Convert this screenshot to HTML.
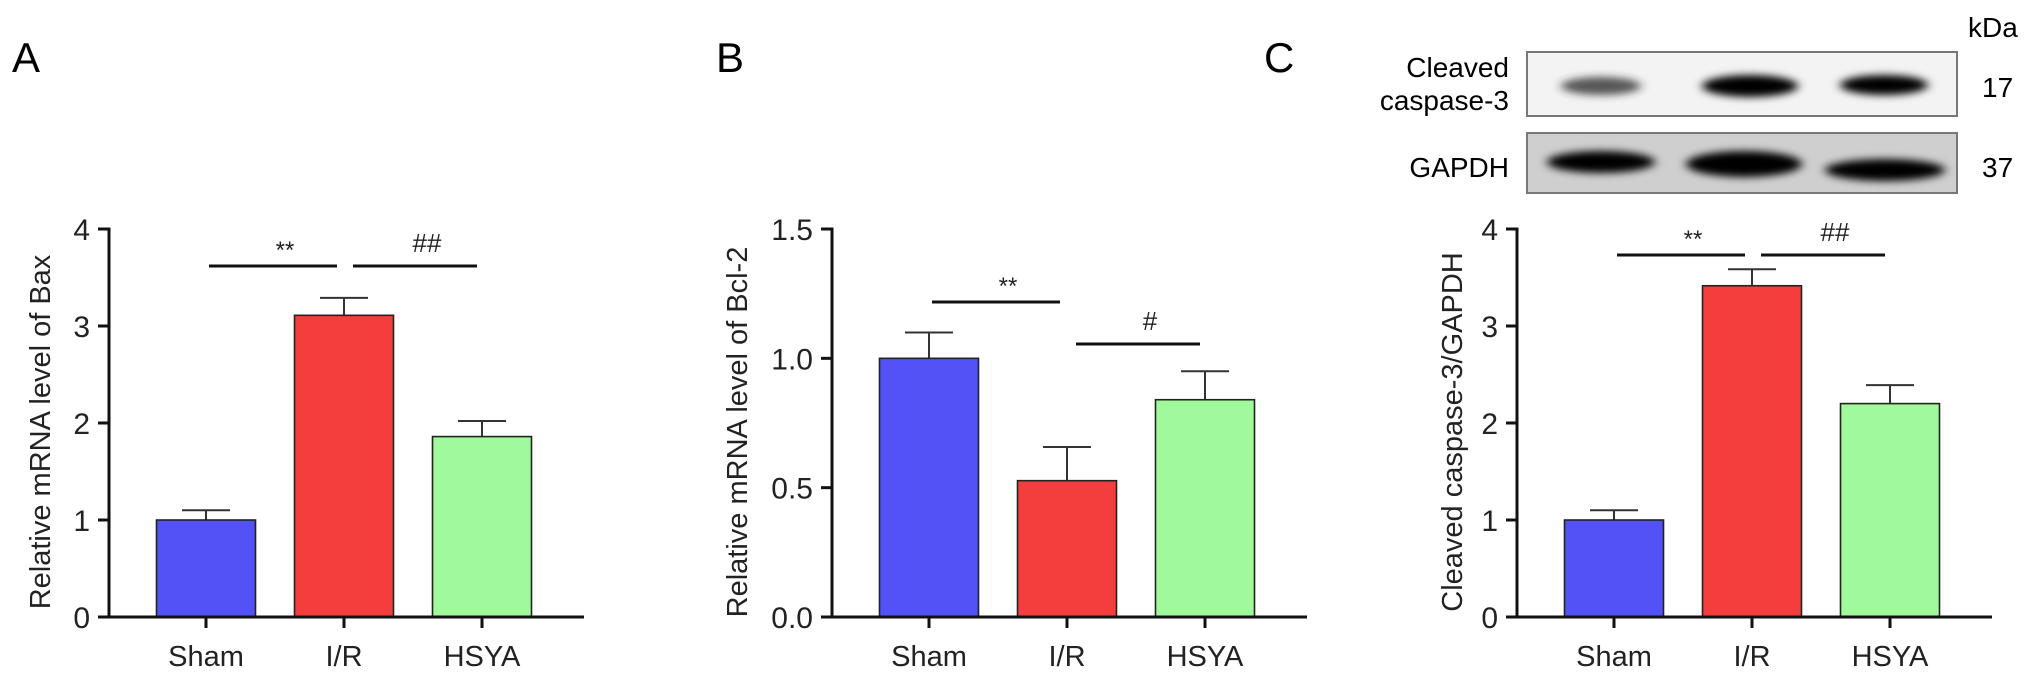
<!DOCTYPE html>
<html><head><meta charset="utf-8"><style>
html,body{margin:0;padding:0;background:#fff;}
svg{display:block;font-family:"Liberation Sans",Arial,sans-serif;}
</style></head><body>
<svg id="fig" width="2032" height="679" viewBox="0 0 2032 679" xmlns="http://www.w3.org/2000/svg">
<defs>
<filter id="blur4" x="-20%" y="-100%" width="140%" height="300%"><feGaussianBlur stdDeviation="5 4"/></filter>
</defs>
<text x="12" y="72" font-size="42">A</text>
<text x="716" y="72" font-size="42">B</text>
<text x="1264" y="72" font-size="42">C</text>

<g>
<text x="1968" y="37" font-size="28">kDa</text>
<rect x="1527" y="52" width="430" height="64" fill="#f3f3f3" stroke="#777" stroke-width="2"/>
<ellipse cx="1601" cy="86" rx="40" ry="9" fill="#222" opacity="0.75" filter="url(#blur4)"/>
<ellipse cx="1750" cy="86" rx="48" ry="11" fill="#000" filter="url(#blur4)"/>
<ellipse cx="1884" cy="85" rx="44" ry="10" fill="#000" filter="url(#blur4)"/>
<rect x="1527" y="133" width="430" height="60" fill="#cfcfcf" stroke="#777" stroke-width="2"/>
<ellipse cx="1601" cy="162" rx="54" ry="11" fill="#000" filter="url(#blur4)"/>
<ellipse cx="1744" cy="164" rx="58" ry="13" fill="#000" filter="url(#blur4)"/>
<ellipse cx="1885" cy="170" rx="60" ry="11" fill="#000" filter="url(#blur4)"/>
<text x="1509" y="77" font-size="28" text-anchor="end">Cleaved</text>
<text x="1509" y="110" font-size="28" text-anchor="end">caspase-3</text>
<text x="1509" y="177" font-size="28" text-anchor="end">GAPDH</text>
<text x="1982" y="97" font-size="28">17</text>
<text x="1982" y="177" font-size="28">37</text>
</g>
<g id="charts"></g>
</svg>
<script>
const categories = ["Sham", "I/R", "HSYA"];
const colors = ["#5252f6", "#f43e3e", "#a0f99a"];
const baxValues = [1.0, 3.11, 1.86];
const baxErrors = [0.10, 0.18, 0.16];
const baxTicks = ["0", "1", "2", "3", "4"];
const bcl2Values = [1.0, 0.527, 0.84];
const bcl2Errors = [0.10, 0.13, 0.11];
const bcl2Ticks = ["0.0", "0.5", "1.0", "1.5"];
const caspValues = [1.0, 3.415, 2.20];
const caspErrors = [0.10, 0.17, 0.19];
const caspTicks = ["0", "1", "2", "3", "4"];
const baxSig = [{from: 0, to: 1, label: "**"}, {from: 1, to: 2, label: "##"}];
const bcl2Sig = [{from: 0, to: 1, label: "**"}, {from: 1, to: 2, label: "#"}];
const caspSig = [{from: 0, to: 1, label: "**"}, {from: 1, to: 2, label: "##"}];

const NS = "http://www.w3.org/2000/svg";
const root = document.getElementById("charts");
function mk(tag, attrs, parent) {
  const e = document.createElementNS(NS, tag);
  for (const k in attrs) e.setAttribute(k, attrs[k]);
  parent.appendChild(e);
  return e;
}

function drawChart(cfg) {
  const g = mk("g", {}, root);
  
  
  const y0 = 617, yTop = 229;
  const ymax = cfg.ymax;
  const y = v => y0 - (v / ymax) * (y0 - yTop);
  const step = 138, bw = 99;
  const xc = i => cfg.ax + 97 + i * step;
  cfg.values.forEach((v, i) => {
    const cx = xc(i);
    const er = y(v + cfg.errors[i]);
    const el = mk("line", {x1: cx, x2: cx, y1: y(v), y2: er, stroke: "#333", "stroke-width": 2}, g);
    
    
    const cap = mk("line", {x1: cx - 24, x2: cx + 24, y1: er, y2: er, stroke: "#333", "stroke-width": 2}, g);
    
    
    const r = mk("rect", {x: cx - bw / 2, y: y(v), width: bw, height: y0 - y(v), fill: colors[i], stroke: "#222", "stroke-width": 1.6}, g);
    
    
    const t = mk("line", {x1: cx, x2: cx, y1: y0, y2: y0 + 11, stroke: "#111", "stroke-width": 3}, g);
    
    
    const lb = mk("text", {x: cx, y: y0 + 49, "font-size": 29, "text-anchor": "middle", fill: "#222"}, g);
    lb.textContent = categories[i];
    
    
  });
  const ya = mk("line", {x1: cfg.ax, x2: cfg.ax, y1: yTop - 1.5, y2: y0 + 1.5, stroke: "#111", "stroke-width": 3}, g);
  
  
  const xa = mk("line", {x1: cfg.ax - 11, x2: cfg.ax + 475, y1: y0, y2: y0, stroke: "#111", "stroke-width": 3}, g);
  
  
  cfg.ticks.forEach((lab, i) => {
    const v = i * ymax / (cfg.ticks.length - 1);
    const tk = mk("line", {x1: cfg.ax - 11, x2: cfg.ax, y1: y(v), y2: y(v), stroke: "#111", "stroke-width": 3}, g);
    
    
    const tl = mk("text", {x: cfg.ax - 19, y: y(v) + 11, "font-size": 30, "text-anchor": "end", fill: "#222"}, g);
    tl.textContent = lab;
    
    
  });
  const tt = mk("text", {x: 0, y: 0, "font-size": 29, "text-anchor": "middle", fill: "#222", transform: "translate(" + cfg.titleX + ",432) rotate(-90)"}, g);
  tt.textContent = cfg.title;
  
  
  cfg.sig.forEach((s, i) => {
    const ly = cfg.sigY[i];
    const x1 = xc(s.from) + 3 + (i ? 6 : 0), x2 = xc(s.to) - 5 + (i ? 0 : -2);
    const ln = mk("line", {x1: x1, x2: x2, y1: ly, y2: ly, stroke: "#111", "stroke-width": 3}, g);
    
    
    const st = mk("text", {x: (x1 + x2) / 2 + 12, y: ly - 14 + (s.label[0] === "*" ? 6 : 0), "font-size": s.label[0] === "*" ? 24 : 26, "text-anchor": "middle", fill: "#222"}, g);
    st.textContent = s.label;
    
    
  });
}

drawChart({name: "bax-chart", ax: 109, ymax: 4, values: baxValues, errors: baxErrors, ticks: baxTicks, sig: baxSig, sigY: [266, 266], title: "Relative mRNA level of Bax", titleX: 50});
drawChart({name: "bcl2-chart", ax: 832, ymax: 1.5, values: bcl2Values, errors: bcl2Errors, ticks: bcl2Ticks, sig: bcl2Sig, sigY: [302, 344], title: "Relative mRNA level of Bcl-2", titleX: 747});
drawChart({name: "caspase-chart", ax: 1517, ymax: 4, values: caspValues, errors: caspErrors, ticks: caspTicks, sig: caspSig, sigY: [255, 255], title: "Cleaved caspase-3/GAPDH", titleX: 1462});
</script>
</body></html>
